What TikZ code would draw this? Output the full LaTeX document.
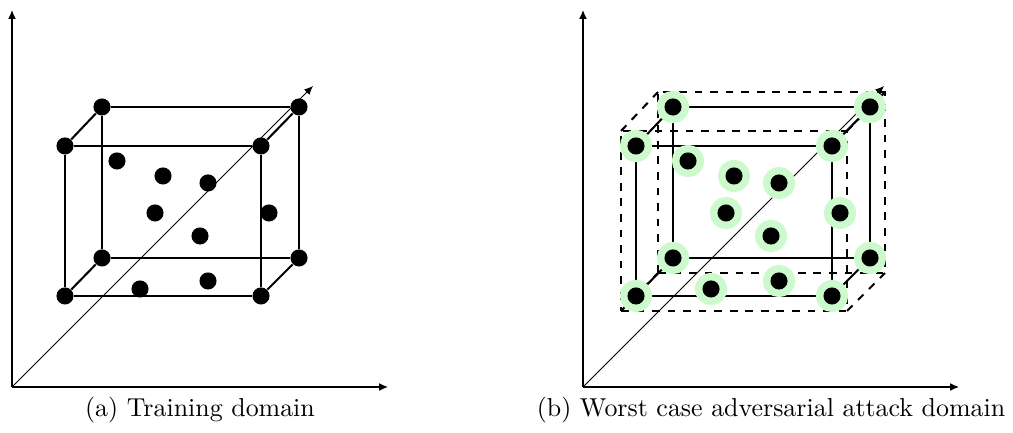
\documentclass[tikz,border=0pt]{standalone}
\usepackage{tikz}
\usetikzlibrary{arrows.meta,backgrounds}
\definecolor{halogreen}{RGB}{204,250,204}
\tikzset{
  axis/.style={-{Latex[length=3.4pt,width=3pt]},line width=0.5pt},
  depthaxis/.style={-{Latex[length=3.4pt,width=3pt]},line width=0.35pt},
  edge/.style={line width=0.8pt},
  bound/.style={line width=0.8pt,dashed},
  dot/.style={circle,fill=black,minimum size=6.6pt,inner sep=0pt},
  advdot/.style={dot,preaction={draw=halogreen,line width=5.8pt},outer sep=2.9pt},
  capt/.style={font=\normalsize,inner sep=0pt}
}

\begin{document}
\begin{tikzpicture}[x=0.386pt,y=0.386pt]
\useasboundingbox (0,0) rectangle (1013,433);
% (a) training domain
\begin{scope}[shift={(12,46)}]
\coordinate (a-o) at (0,0);
\coordinate (a-x) at (376,0);
\coordinate (a-y) at (0,377);
\coordinate (a-z) at (301,301);
% cube corners
\node[dot] (a-f1) at (53,91) {};
\node[dot] (a-f2) at (249,91) {};
\node[dot] (a-f3) at (249,241) {};
\node[dot] (a-f4) at (53,241) {};
\node[dot] (a-b1) at (90,129) {};
\node[dot] (a-b2) at (287,129) {};
\node[dot] (a-b3) at (287,280) {};
\node[dot] (a-b4) at (90,280) {};
% samples inside
\foreach \p [count=\i] in {(105,226),(151,211),(196,204),(143,174),(257,174),(188,151),(128,98),(196,106)}
  \node[dot] (a-p\i) at \p {};
\begin{pgfonlayer}{background}
\draw[axis] (a-o) -- (a-y);
\draw[axis] (a-o) -- (a-x);
\draw[depthaxis] (a-o) -- (a-z);
\draw[edge] (a-f1) -- (a-f2) -- (a-f3) -- (a-f4) -- (a-f1);
\draw[edge] (a-b1) -- (a-b2) -- (a-b3) -- (a-b4) -- (a-b1);
\foreach \i in {1,...,4}
  \draw[edge] (a-f\i) -- (a-b\i);
\end{pgfonlayer}
\node[capt] (a-cap) at (188,-23) {(a) Training domain};
\end{scope}
% (b) worst case adversarial attack domain
\begin{scope}[shift={(583,46)}]
\coordinate (b-o) at (0,0);
\coordinate (b-x) at (376,0);
\coordinate (b-y) at (0,377);
\coordinate (b-z) at (301,301);
% cube corners
\node[advdot] (b-f1) at (53,91) {};
\node[advdot] (b-f2) at (249,91) {};
\node[advdot] (b-f3) at (249,241) {};
\node[advdot] (b-f4) at (53,241) {};
\node[advdot] (b-b1) at (90,129) {};
\node[advdot] (b-b2) at (287,129) {};
\node[advdot] (b-b3) at (287,280) {};
\node[advdot] (b-b4) at (90,280) {};
% enlarged box
\coordinate (b-d1) at (38,76);
\coordinate (b-d2) at (264,76);
\coordinate (b-d3) at (264,256);
\coordinate (b-d4) at (38,256);
\coordinate (b-e1) at (75,114);
\coordinate (b-e2) at (302,114);
\coordinate (b-e3) at (302,295);
\coordinate (b-e4) at (75,295);
% samples inside
\foreach \p [count=\i] in {(105,226),(151,211),(196,204),(143,174),(257,174),(188,151),(128,98),(196,106)}
  \node[advdot] (b-p\i) at \p {};
\begin{pgfonlayer}{background}
\draw[axis] (b-o) -- (b-y);
\draw[axis] (b-o) -- (b-x);
\draw[depthaxis] (b-o) -- (b-z);
\draw[bound] (b-d1) -- (b-d2) -- (b-d3) -- (b-d4) -- cycle;
\draw[bound] (b-e1) -- (b-e2) -- (b-e3) -- (b-e4) -- cycle;
\foreach \i in {1,...,4}
  \draw[bound] (b-d\i) -- (b-e\i);
\draw[edge] (b-f1) -- (b-f2) -- (b-f3) -- (b-f4) -- (b-f1);
\draw[edge] (b-b1) -- (b-b2) -- (b-b3) -- (b-b4) -- (b-b1);
\foreach \i in {1,...,4}
  \draw[edge] (b-f\i) -- (b-b\i);
\end{pgfonlayer}
\node[capt] (b-cap) at (188,-23) {(b) Worst case adversarial attack domain};
\end{scope}
\end{tikzpicture}
\end{document}
